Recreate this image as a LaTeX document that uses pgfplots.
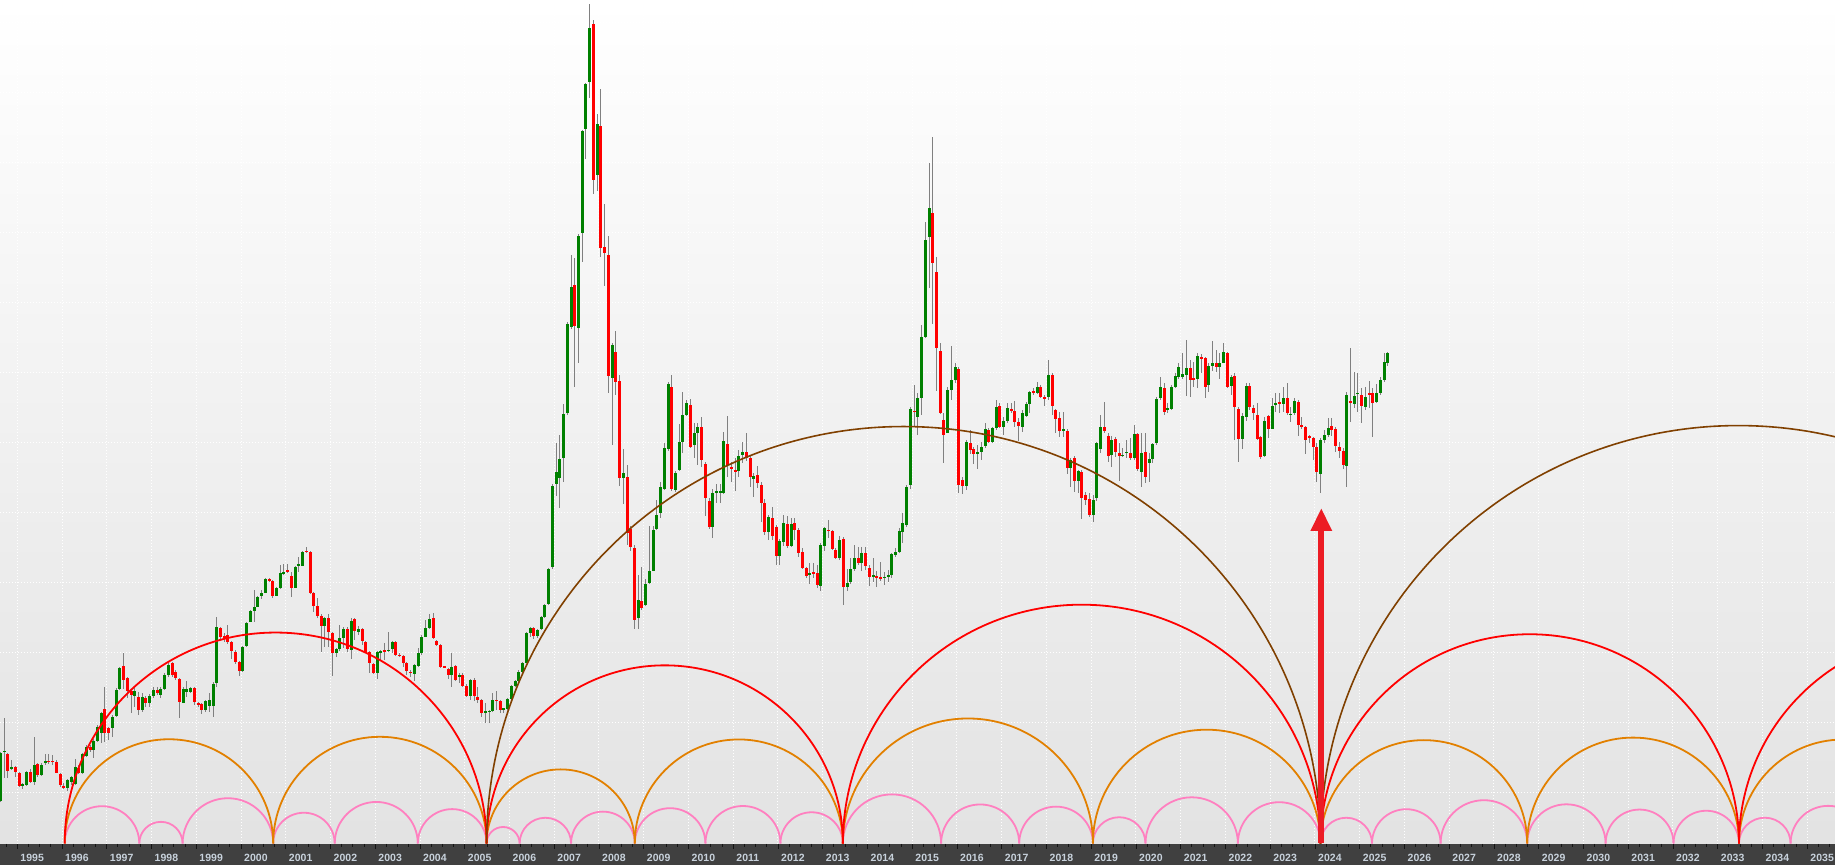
\documentclass[border=0pt]{standalone}
\usepackage{pgfplots}
\usepackage{pgfplotstable}
\usepackage{fontspec}
\setmainfont{Liberation Sans}
\pgfplotsset{compat=1.18}
\usetikzlibrary{arrows.meta}

\definecolor{upc}{RGB}{0,128,0}
\definecolor{downc}{RGB}{255,0,0}
\definecolor{wickc}{RGB}{128,128,128}
\definecolor{pinkc}{RGB}{255,128,192}
\definecolor{orangec}{RGB}{226,128,0}
\definecolor{redc}{RGB}{255,0,0}
\definecolor{brownc}{RGB}{128,64,0}
\definecolor{arrowc}{RGB}{236,28,36}
\definecolor{barc}{RGB}{64,64,64}
\definecolor{tickc}{RGB}{20,20,20}
\definecolor{labc}{RGB}{200,210,220}
\definecolor{bgbot}{RGB}{226,226,226}

% monthly candles: t open high low close
\pgfplotstableread{
t o h l c
1994.625 64 113 63 112
1994.708 113 147 87 114
1994.792 111 112 87 94
1994.875 96 105 95 98
1994.958 98 99 88 93
1995.042 92 93 78 79
1995.125 79 82 76 80.5
1995.208 80 94 79 93
1995.292 93 96 82 83
1995.375 83 128 80 100
1995.458 101 102 88 90
1995.542 90 102 89 100
1995.625 102.5 111 100 104
1995.708 104 111 100.5 103
1995.792 104 110 99.5 103
1995.875 103 105 91.5 92
1995.958 91 92 78 80
1996.042 78.5 82 76 77.5
1996.125 77 86 73.5 85
1996.208 83 89 80 87.5
1996.292 81 106 80 97.5
1996.375 97 100 91 92
1996.458 92 112 91 111
1996.542 109 120 108 118
1996.625 118 120 113 115
1996.708 115 126 106.5 124
1996.792 124 140 122.5 138
1996.875 132 153 122 152
1996.958 156 178 123 132
1997.042 137 138 125 132
1997.125 137 150 127.5 148
1997.208 149 177 148 175
1997.292 175.5 198 175 197
1997.375 199 212 175.5 185
1997.458 186.5 188 166.5 173.5
1997.542 173.5 175 151.5 169.5
1997.625 169 178 158 173.5
1997.708 168 173 150 155
1997.792 155 172 153 168
1997.875 167 169 158 162
1997.958 162 171 158 169
1998.042 169 178 166.5 175
1998.125 175 178 170 172
1998.208 170 178 166.5 176
1998.292 176 192 175 190
1998.375 190 201.7 188 200
1998.458 201.5 203 188 190
1998.542 193 195 185 187
1998.625 186 186.5 147 163
1998.708 162 178 161.5 176
1998.792 173 184 168 176
1998.875 173 178 172 177
1998.958 177 178 160 163
1999.042 161.5 163 158 160
1999.125 161 162 150.5 155
1999.208 155 165 153 164
1999.292 159 172 153 165
1999.375 159 183 148 181
1999.458 182 248 178 238
1999.542 237 238 225 228
1999.625 229 232 223 226
1999.708 230 240 221 223
1999.792 223 223.5 205.5 214
1999.875 213 215 201 203
1999.958 203 203.5 189 194
2000.042 194 219 193 218
2000.125 219 243 218 242
2000.208 243 255 242.5 254
2000.292 254 275 243 258
2000.375 258 269 257.5 268
2000.458 269 275 265.5 272
2000.542 272 287 271.5 286
2000.625 285.5 286.5 282.5 284
2000.708 284 285 266.5 269
2000.792 269 278 268.5 277
2000.875 277 300 276 292
2000.958 291.5 300.5 290 293
2001.042 295 300.5 291.5 293.5
2001.125 289 293 267.5 277
2001.208 277 299 276.5 298
2001.292 299 308 293 300.5
2001.375 299 314 298.5 313
2001.458 314 318 311.5 313
2001.542 313 314 271 272
2001.625 272 273 253 259
2001.708 259 267 247 248.5
2001.792 249 251 213 239
2001.875 239 248 218 247
2001.958 247 251 218 233
2002.042 232 232.5 189 212
2002.125 212 217 208 216
2002.208 216 240 214 227
2002.292 227 238 217 236
2002.375 236 238 213 216
2002.458 215 247 206 244
2002.542 246 247 225 234
2002.625 233 239 230 236
2002.708 236 237 220 224
2002.792 223 224 212 213
2002.875 213 214 192 202
2002.958 201 202 191 192
2003.042 192 214 186 213
2003.125 212.5 215 205 214
2003.208 214.7 222 205 214
2003.292 214 233 213 215
2003.375 216 224 212 223
2003.458 223 224 209 210
2003.542 210 212 208 209
2003.625 209 210 198 202
2003.708 202 202.5 190 194
2003.792 193 195 188 192
2003.875 191 201 184 200
2003.958 199 217 198 212
2004.042 212 230 210 228
2004.125 228 245 228 237
2004.208 237 251 236 246
2004.292 247 252 226 227
2004.375 224 225 219 220
2004.458 220 221 197 198
2004.542 198.3 199 197 197.5
2004.625 196 197 186 190
2004.708 190 212 178 198
2004.792 199 200 184 185
2004.875 188 192 182 190
2004.958 190 192 178 179
2005.042 179 181 168 169
2005.125 169 186 165 185
2005.208 185 187 164 169
2005.292 168 178 162 165
2005.375 165 166 148 152
2005.458 152 162 142 154
2005.542 153 155 142 154
2005.625 154 172 153 165
2005.708 165 174 155 164
2005.792 164 165 152 155
2005.875 155.5 157 152 156.5
2005.958 156 167 155 166
2006.042 166 180 165 179
2006.125 179 185 178 184
2006.208 184 195 183 193
2006.292 193 203 192 202
2006.375 202 233 201.7 231.7
2006.458 232 238 228 237
2006.542 236.5 238 226 228.5
2006.625 229 236 227 234.5
2006.708 236 249 235 248
2006.792 248 261 247 260
2006.875 261 297 260 296
2006.958 298 381 296 378.5
2007.042 381 422 369 393
2007.125 387 430 357 406
2007.208 407 461 383 451
2007.292 452 543 449.5 540.5
2007.375 538.5 610 536 578
2007.458 580 607 478 539
2007.542 537 631.5 502 629
2007.625 632 735 603 734
2007.708 736 782 706 780.5
2007.792 782.6 861 767 837
2007.875 840.5 844.6 671 685.4
2007.958 690 751 674 740.5
2008.042 738.5 776 608 617
2008.125 618 661 579 612
2008.208 610 629 472 489.5
2008.292 487.4 522 420 520
2008.375 513 534 470 483.4
2008.458 484 490 379 386.6
2008.542 387.4 416 361 391.5
2008.625 388.3 400 320 332.3
2008.708 335.6 339 314 318
2008.792 317 320 236.4 244.6
2008.875 246.6 289.5 236.4 265
2008.958 264.2 297.7 255 256.8
2009.042 260 286 259 281.3
2009.125 282 338.5 280.5 294.4
2009.208 294.4 338.5 293.6 335.2
2009.292 336.4 365 335 350
2009.375 351.5 383.4 347.4 378
2009.458 376 422 375 417
2009.542 416 483.4 414 481.3
2009.625 478 489.5 374.4 376
2009.708 375.2 393.6 373 392.3
2009.792 394.8 440.5 393.6 423.4
2009.875 423.4 473.3 411.7 449.5
2009.958 449.5 465 448.7 461.7
2010.042 460 465.7 416.7 418.3
2010.125 420 442 406.7 431.7
2010.208 431.7 441.7 400 438.3
2010.292 438.3 448.3 398.3 405
2010.375 401 403.3 349 366.7
2010.458 364 366.7 335.7 338.3
2010.542 338.3 375.7 326.7 372.3
2010.625 372.3 381 361.7 373.5
2010.708 372.3 381 362.3 374.3
2010.792 372.3 432.7 370.7 424
2010.875 421 449 388.3 400
2010.958 397.3 403.3 383.3 396.3
2011.042 394.3 406.7 374.3 393.3
2011.125 394.3 415 388.3 409
2011.208 410 423.3 401.7 413.3
2011.292 413.3 432.3 404.3 406.7
2011.375 406.7 410 378.3 387.7
2011.458 386.3 391.7 367.7 389
2011.542 390 399 376.7 381.7
2011.625 380 383.3 343.3 362.3
2011.708 362.3 365.7 330 333.3
2011.792 333.3 350 325 348.3
2011.875 346.7 358.3 325 329
2011.958 338.3 340 300 309
2012.042 309 325.7 300 324
2012.125 323.3 350 319 342.3
2012.208 341 349 316.7 319
2012.292 319 346.7 318.3 341
2012.375 341.7 346.7 325 335
2012.458 335 336.7 308.3 312.3
2012.542 313 316.7 295.7 297.3
2012.625 296.7 298.3 286.7 289.3
2012.708 290 302.3 281 291.7
2012.792 292.7 301.7 286.7 291.7
2012.875 291.7 300 276.7 280
2012.958 279.3 321.7 274.3 320
2013.042 319.3 337.7 314.3 336.7
2013.125 335 345 326.7 334
2013.208 334 335 315 316
2013.292 315 316.7 305.7 307.3
2013.375 307.3 329 305 325
2013.458 326 327.7 260 278.3
2013.542 278.3 295.7 274.3 282.3
2013.625 282.7 306.7 281 296
2013.708 296 320 294.3 306.7
2013.792 306.7 318.3 300 302.3
2013.875 302.3 318.3 294.3 311.7
2013.958 311.7 318.3 295 299
2014.042 297.3 300 279 288.3
2014.125 288.3 306.7 283.3 290
2014.208 289 294.3 278.3 287.7
2014.292 287.7 303.3 284.3 286
2014.375 286.7 293.3 280 288.3
2014.458 288.3 295 283.3 289.3
2014.542 290 312.3 286.7 311
2014.625 310 316.7 307.7 313.3
2014.708 312.7 336.7 311.7 334
2014.792 333.3 351.7 321.7 341.7
2014.875 340 380 338.3 378.3
2014.958 380 457.7 375.7 455.7
2015.042 454 480 438.3 453.3
2015.125 447.7 471.7 430 466.7
2015.208 467.3 540 450 528.3
2015.292 528.3 643.3 526.7 625
2015.375 628.3 701.7 576.7 656.7
2015.458 651.7 728.3 541 602.3
2015.542 593.3 608.3 474.3 516.7
2015.625 514.3 521.7 450.7 452.3
2015.708 445 451.7 401.7 430
2015.792 432.3 478.3 431.7 475
2015.875 475 519 465 485
2015.958 485 501.7 481.7 497.7
2016.042 496 498.3 371.7 380
2016.125 385 388.3 371 379.3
2016.208 379.3 425 375 423.3
2016.292 422.3 435 411 415
2016.375 416 418.3 401 411
2016.458 411 420 395.7 412.7
2016.542 412.7 423.3 405 418.3
2016.625 419 441.7 416.7 435.7
2016.708 435 436.7 421.7 423.3
2016.792 423.3 438.3 422.3 436.7
2016.875 436.7 465 435 457.7
2016.958 459 461.7 436.7 438.3
2017.042 438.3 448.3 430 444.3
2017.125 444.3 462.3 441.7 456.7
2017.208 456 461.7 452.3 454.3
2017.292 454 464.3 438.3 443.3
2017.375 443.3 446.7 424.3 439.3
2017.458 438.3 455 433.3 451.7
2017.542 449.3 463.3 448.3 461
2017.625 461 474.3 451.7 473.3
2017.708 474 476.7 470 472.3
2017.792 472.3 482.7 471 478.3
2017.875 478.3 480 466.7 467.7
2017.958 467.7 470 459 467
2018.042 467.7 505 465 490
2018.125 490 491.7 450 459
2018.208 455 456 431.7 446
2018.292 446.7 453.3 428.3 434.3
2018.375 434.3 453.3 428.3 436
2018.458 434.3 435.7 391 397.3
2018.542 396.7 406.7 378.3 405
2018.625 407.3 409 373.3 384.3
2018.708 384.3 395 372.3 394
2018.792 393.3 395 345.7 367.3
2018.875 370 373.3 360 365
2018.958 366 371.7 348.3 350
2019.042 350 370 343.3 365
2019.125 367.3 423.3 364.3 422.3
2019.208 416 450 411.7 437.7
2019.292 437.7 463.3 431.7 434.3
2019.375 429 432.3 403.3 409
2019.458 410 429 397.7 425
2019.542 426 428.3 408.3 413.3
2019.625 412.3 421.7 384.3 409
2019.708 409.3 416.7 408.3 410
2019.792 412.3 425 406.7 413
2019.875 412.3 426.7 405 406.7
2019.958 406.7 440 405 431
2020.042 431 432.3 394.3 396
2020.125 393.3 432.3 378.3 411.7
2020.208 412.7 432.3 381.7 388.3
2020.292 402.3 412.3 383.3 406
2020.375 406 421.7 401.7 420.7
2020.458 422.3 468.3 420 465.7
2020.542 466.7 487.7 465 477.7
2020.625 476.7 481.7 450 453.3
2020.708 455 462.3 451.7 456.7
2020.792 456.3 480 455 478.3
2020.875 478.3 491.7 476.7 489
2020.958 488.3 501.7 485.7 498.3
2021.042 487.7 512.3 485.7 491
2021.125 490 525 469 496.7
2021.208 496.7 505 468.3 485
2021.292 486.3 503.3 478.3 485.3
2021.375 485.7 511.7 476.7 509
2021.458 507.7 511 491.7 506
2021.542 506.7 508.3 466.7 478.3
2021.625 480 501.7 473.3 499
2021.708 499 524.3 494.3 501.7
2021.792 501.7 515 493.3 497.7
2021.875 497.7 511.7 485.7 502.3
2021.958 502.3 521.7 501.7 512.7
2022.042 511.7 513.3 476.7 478.3
2022.125 479.3 490 470 488.3
2022.208 489 491.7 425 458.3
2022.292 456 458.3 403.3 425.7
2022.375 426.3 451.7 416 449
2022.458 448.3 481.7 444.3 479
2022.542 479 481.7 455 458.3
2022.625 456.7 460 445 451.7
2022.708 450 462.3 425 426
2022.792 428.3 429 405.7 407.7
2022.875 409.3 447.7 408.3 444.3
2022.958 449 450 426.7 436
2023.042 436.3 466.7 435.7 459
2023.125 460.3 471.7 453.3 461.7
2023.208 462.3 472.3 452.3 461.3
2023.292 461 478.3 453.3 466.7
2023.375 466.7 482.3 450 451.7
2023.458 450 458.3 443 451
2023.542 451.7 467.3 450 464
2023.625 463 465 429 440
2023.708 440 448.3 435.7 438.3
2023.792 437.7 439 411 425
2023.875 428.3 430 421.7 427.7
2023.958 427.3 428.3 405 418.3
2024.042 418.3 421.7 383.3 393.3
2024.125 391 426.7 371.7 425
2024.208 425 435 421.7 430
2024.292 430 446.7 428.3 436.7
2024.375 439 446.7 429 435
2024.458 436 438.3 413.3 419
2024.542 418.3 423.3 406.7 414.3
2024.625 414.3 416.7 395.7 400
2024.708 399.3 473.3 378.3 470
2024.792 463.3 516.7 443.3 462.3
2024.875 461 493.3 456.7 469
2024.958 470.7 491.7 453.3 472.3
2025.042 470 476.7 442.3 459.3
2025.125 458.3 478.3 455 468.3
2025.208 471.7 484.3 456.7 470.7
2025.292 471.7 476.7 427.7 462.3
2025.375 463.3 481 461.7 472.3
2025.458 472.3 488.3 470 485
2025.542 485 512.3 483.3 503.3
2025.625 502.3 513 499 512.3
}\candles

% one half circle between two cycle lows (years), base on the date bar
\newcommand\cyc[3]{%
  \pgfmathsetmacro\cycr{(#3-#2)*22.375}%
  \edef\cyctmp{\noexpand\draw[#1] (axis cs:#2,21.5) arc[start angle=180,end angle=0,radius=\cycr bp];}%
  \cyctmp}

\begin{document}
\begin{tikzpicture}
\begin{axis}[
  at={(0,0)}, anchor=south west,
  width=1835bp, height=865bp, scale only axis,
  xmin=1994.6134, xmax=2035.619, ymin=0, ymax=865,
  axis line style={draw=none}, tick style={draw=none},
  xtick={1995,...,2035}, ytick={72,142,...,842},
  xticklabels={}, yticklabels={},
  grid=major,
  major grid style={white, line width=1bp, dash pattern=on 1bp off 2bp},
  axis background/.style={shade, top color=white, bottom color=bgbot},
]
% wicks
\addplot[draw=none, mark=none, forget plot,
  error bars/.cd, y dir=both, y explicit, error mark=none,
  error bar style={wickc, line width=1bp}]
  table[x=t, y expr={(\thisrow{h}+\thisrow{l})/2}, y error expr={(\thisrow{h}-\thisrow{l})/2}] {\candles};
% up bodies
\addplot[draw=none, mark=none, forget plot,
  restrict expr to domain={\thisrow{c}-\thisrow{o}}{0:2000},
  error bars/.cd, y dir=both, y explicit, error mark=none,
  error bar style={upc, line width=3bp}]
  table[x=t, y expr={(\thisrow{o}+\thisrow{c})/2}, y error expr={max(abs(\thisrow{c}-\thisrow{o})/2,0.8)}] {\candles};
% down bodies
\addplot[draw=none, mark=none, forget plot,
  restrict expr to domain={\thisrow{c}-\thisrow{o}}{-2000:0},
  error bars/.cd, y dir=both, y explicit, error mark=none,
  error bar style={downc, line width=3bp}]
  table[x=t, y expr={(\thisrow{o}+\thisrow{c})/2}, y error expr={max(abs(\thisrow{c}-\thisrow{o})/2,0.8)}] {\candles};

% date bar
\fill[barc] (axis cs:1994.6134,0) rectangle (axis cs:2035.619,21);
\pgfplotsinvokeforeach{1995,...,2035}{
  \draw[tickc, line width=1bp] (axis cs:#1,21) -- (axis cs:#1,16);
  \node[anchor=base west, inner sep=0pt, xshift=3bp, text=labc,
    font=\fontsize{10.5bp}{12bp}\selectfont\bfseries] at (axis cs:#1,4) {#1};
}
\pgfplotsinvokeforeach{1995.25,1996.25,...,2035.25}{
  \draw[tickc, line width=1bp] (axis cs:#1,21) -- (axis cs:#1,18);}
\pgfplotsinvokeforeach{1995.5,1996.5,...,2035.5}{
  \draw[tickc, line width=1bp] (axis cs:#1,21) -- (axis cs:#1,18);}
\pgfplotsinvokeforeach{1994.75,1995.75,...,2034.75}{
  \draw[tickc, line width=1bp] (axis cs:#1,21) -- (axis cs:#1,18);}

% pink cycles
\cyc{pinkc, line width=1.8bp}{1996.059}{1997.726}
\cyc{pinkc, line width=1.8bp}{1997.726}{1998.694}
\cyc{pinkc, line width=1.8bp}{1998.694}{2000.718}
\cyc{pinkc, line width=1.8bp}{2000.718}{2002.093}
\cyc{pinkc, line width=1.8bp}{2002.093}{2003.950}
\cyc{pinkc, line width=1.8bp}{2003.950}{2005.487}
\cyc{pinkc, line width=1.8bp}{2005.487}{2006.225}
\cyc{pinkc, line width=1.8bp}{2006.225}{2007.375}
\cyc{pinkc, line width=1.8bp}{2007.375}{2008.799}
\cyc{pinkc, line width=1.8bp}{2008.799}{2010.377}
\cyc{pinkc, line width=1.8bp}{2010.377}{2012.053}
\cyc{pinkc, line width=1.8bp}{2012.053}{2013.449}
\cyc{pinkc, line width=1.8bp}{2013.449}{2015.644}
\cyc{pinkc, line width=1.8bp}{2015.644}{2017.389}
\cyc{pinkc, line width=1.8bp}{2017.389}{2019.036}
\cyc{pinkc, line width=1.8bp}{2019.036}{2020.211}
\cyc{pinkc, line width=1.8bp}{2020.211}{2022.276}
\cyc{pinkc, line width=1.8bp}{2022.276}{2024.122}
\cyc{pinkc, line width=1.8bp}{2024.122}{2025.273}
\cyc{pinkc, line width=1.8bp}{2025.273}{2026.806}
\cyc{pinkc, line width=1.8bp}{2026.806}{2028.741}
\cyc{pinkc, line width=1.8bp}{2028.741}{2030.493}
\cyc{pinkc, line width=1.8bp}{2030.493}{2032.010}
\cyc{pinkc, line width=1.8bp}{2032.010}{2033.474}
\cyc{pinkc, line width=1.8bp}{2033.474}{2034.627}
\cyc{pinkc, line width=1.8bp}{2034.627}{2036.310}
% orange cycles
\cyc{orangec, line width=1.8bp}{1996.059}{2000.718}
\cyc{orangec, line width=1.8bp}{2000.718}{2005.487}
\cyc{orangec, line width=1.8bp}{2005.487}{2008.799}
\cyc{orangec, line width=1.8bp}{2008.799}{2013.449}
\cyc{orangec, line width=1.8bp}{2013.449}{2019.036}
\cyc{orangec, line width=1.8bp}{2019.036}{2024.122}
\cyc{orangec, line width=1.8bp}{2024.122}{2028.741}
\cyc{orangec, line width=1.8bp}{2028.741}{2033.474}
\cyc{orangec, line width=1.8bp}{2033.474}{2038.120}
% red cycles
\cyc{redc, line width=1.8bp}{1996.059}{2005.487}
\cyc{redc, line width=1.8bp}{2005.487}{2013.449}
\cyc{redc, line width=1.8bp}{2013.449}{2024.122}
\cyc{redc, line width=1.8bp}{2024.122}{2033.474}
\cyc{redc, line width=1.8bp}{2033.474}{2042.860}
% brown cycles
\cyc{brownc, line width=1.6bp}{2005.487}{2024.122}
\cyc{brownc, line width=1.6bp}{2024.122}{2042.800}

% arrow at the 2024 low
\draw[arrowc, line width=6bp, -{Triangle[width=20bp,length=23bp]}]
  (axis cs:2024.14,21.5) -- (axis cs:2024.14,357);
\end{axis}
\pgfresetboundingbox
\path[use as bounding box] (0,0) rectangle (1835bp,865bp);
\end{tikzpicture}
\end{document}
